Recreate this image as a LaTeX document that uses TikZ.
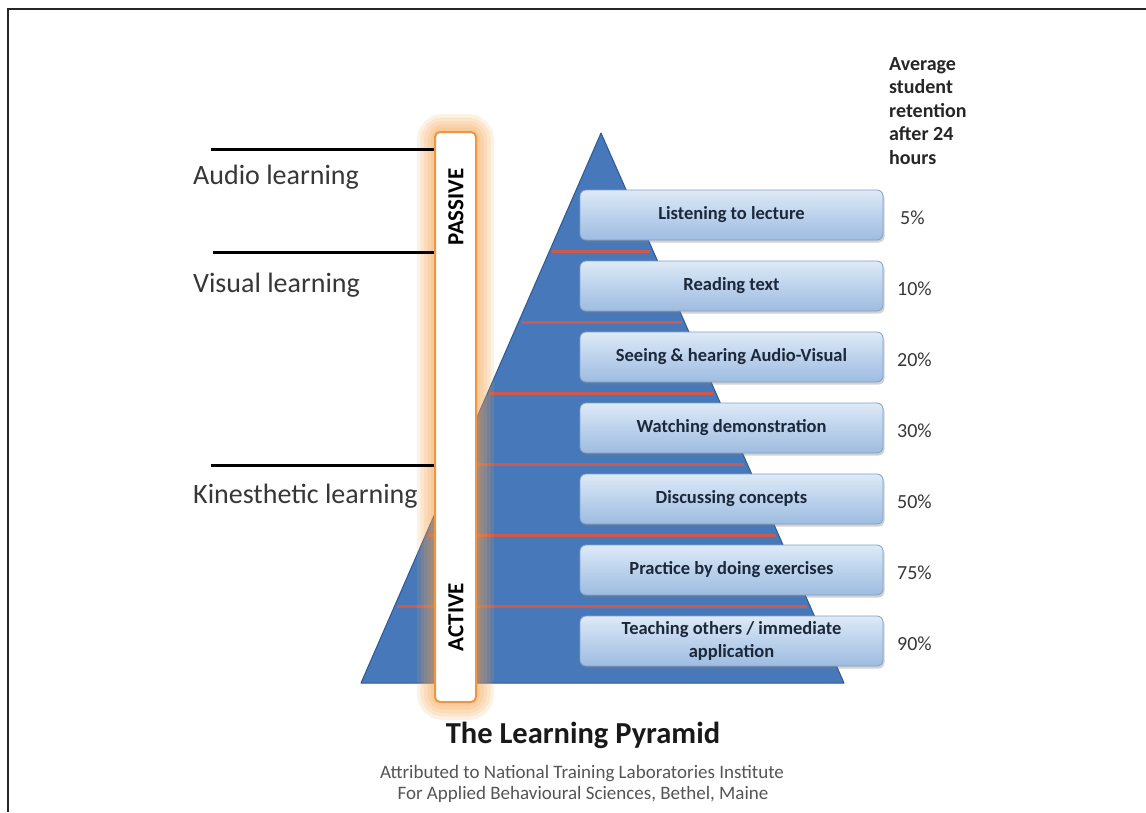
\documentclass[tikz,border=0pt]{standalone}
\usepackage{fontspec}
\setmainfont{Carlito}
\usetikzlibrary{shadows,calc}
\definecolor{pyrblue}{RGB}{70,120,186}
\definecolor{pyredge}{RGB}{48,88,148}
\definecolor{redline}{RGB}{205,90,75}
\definecolor{boxtop}{RGB}{222,234,247}
\definecolor{boxmid}{RGB}{188,210,236}
\definecolor{boxbot}{RGB}{158,188,224}
\definecolor{boxedge}{RGB}{130,160,200}
\definecolor{boxtext}{RGB}{28,40,58}
\definecolor{glowc}{RGB}{247,160,70}
\definecolor{barline}{RGB}{236,150,70}
\definecolor{txtgray}{RGB}{55,55,55}
\definecolor{subgray}{RGB}{85,85,85}
\begin{document}
\begin{tikzpicture}[x=1pt,y=-1pt,
  stepbox/.style={draw=boxedge, line width=0.8pt, rounded corners=6pt,
    top color=boxtop, bottom color=boxbot, middle color=boxmid, minimum width=303pt,
    minimum height=50pt, align=center, inner sep=2pt,
    font=\fontsize{18.5}{21}\selectfont\bfseries, text=boxtext,
    drop shadow={shadow xshift=1.5pt, shadow yshift=-2.5pt, opacity=0.35}},
  pct/.style={anchor=west, font=\fontsize{20}{22}\selectfont, text=txtgray, inner sep=0pt},
  lvl/.style={anchor=base west, font=\fontsize{28}{30}\selectfont, text=txtgray, inner sep=0pt},
  tick/.style={line width=3pt, black},
  sep/.style={line width=3.2pt, redline, shorten <=3pt, shorten >=3pt},
  vlabel/.style={rotate=90, font=\fontsize{23}{25}\selectfont\bfseries, text=black, inner sep=0pt},
]
\useasboundingbox (0,0) rectangle (1146,812);
\fill[white] (0,0) rectangle (1146,812);
\draw[line width=2.6pt, black!85] (8,812) -- (8,9) -- (1146,9);

% pyramid
\coordinate (apex) at (601,133);
\coordinate (bl) at (361,683);
\coordinate (br) at (844,683);
\filldraw[fill=pyrblue, draw=pyredge, line width=1pt, line join=round] (apex) -- (br) -- (bl) -- cycle;
\foreach \t in {0.2155,0.3445,0.4736,0.6027,0.7318,0.8609}
  \draw[sep] ($(apex)!\t!(bl)$) -- ($(apex)!\t!(br)$);

% glowing bar
\foreach \w in {36,29,22,15,8}
  \draw[glowc, line width=\w pt, opacity=0.14, rounded corners=8pt] (435,132) rectangle (476,702);
\node[draw=barline, line width=2pt, fill=white, rounded corners=5pt,
      minimum width=41pt, minimum height=570pt, inner sep=0pt] (bar) at (455.5,417) {};
\node[vlabel] (passive) at (456,207) {PASSIVE};
\node[vlabel] (active) at (456,617) {ACTIVE};

% left ticks and labels
\coordinate (ta) at (211,149);
\coordinate (tv) at (213,252);
\coordinate (tk) at (211,465);
\draw[tick] (ta) -- (ta -| bar.west);
\draw[tick] (tv) -- (tv -| bar.west);
\draw[tick] (tk) -- (tk -| bar.west);
\node[lvl] (audio) at (193,184) {Audio learning};
\node[lvl] (visual) at (193,292) {Visual learning};
\node[lvl] (kin) at (193,503) {Kinesthetic learning};

% boxes
\node[stepbox] (b1) at (731.5,215) {Listening to lecture};
\node[stepbox] (b2) at (731.5,286) {Reading text};
\node[stepbox] (b3) at (731.5,357) {Seeing \& hearing Audio-Visual};
\node[stepbox] (b4) at (731.5,428) {Watching demonstration};
\node[stepbox] (b5) at (731.5,499) {Discussing concepts};
\node[stepbox] (b6) at (731.5,570) {Practice by doing exercises};
\node[stepbox, font=\fontsize{18.5}{23}\selectfont\bfseries] (b7) at (731.5,641) {Teaching others / immediate\\application};

% percentages
\node[pct] (p1) at (900,218) {5\%};
\node[pct] (p2) at (897,289) {10\%};
\node[pct] (p3) at (897,360) {20\%};
\node[pct] (p4) at (897,431) {30\%};
\node[pct] (p5) at (897,502) {50\%};
\node[pct] (p6) at (897,573) {75\%};
\node[pct] (p7) at (897,644) {90\%};

% header
\node[anchor=north west, align=left, inner sep=0pt, text=black!85,
      font=\fontsize{20}{23.5}\selectfont\bfseries] (hdr) at (889,57)
      {Average\\student\\retention\\after 24\\hours};

% title
\node[anchor=base, inner sep=0pt, text=black!90, font=\fontsize{30.5}{32}\selectfont\bfseries] (title) at (583,743) {The Learning Pyramid};
\node[anchor=base, inner sep=0pt, text=subgray, font=\fontsize{19}{21}\selectfont] (sub1) at (582,778) {Attributed to National Training Laboratories Institute};
\node[anchor=base, inner sep=0pt, text=subgray, font=\fontsize{19}{21}\selectfont] (sub2) at (583,799) {For Applied Behavioural Sciences, Bethel, Maine};
\end{tikzpicture}
\end{document}
